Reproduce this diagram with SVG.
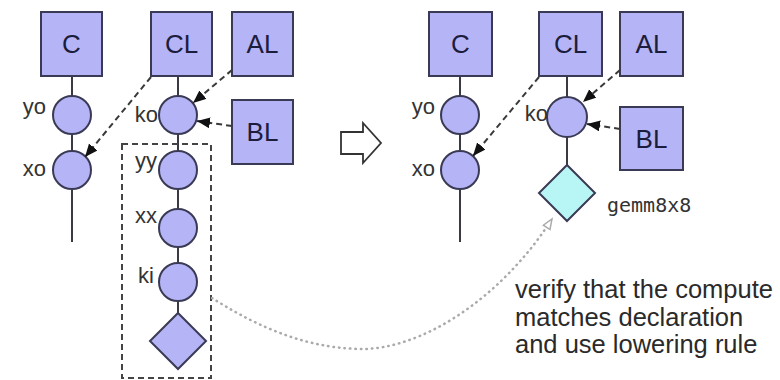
<svg xmlns="http://www.w3.org/2000/svg" width="780" height="380" viewBox="0 0 780 380">
  <style>
    .box { fill: #b4b4f6; stroke: #3a3a55; stroke-width: 2; }
    .iter { fill: #b4b4f6; stroke: #3a3a55; stroke-width: 2; }
    .intrin { fill: #b8f6f6; stroke: #3a3a55; stroke-width: 2; }
    .axis { stroke: #3a3a44; stroke-width: 2; fill: none; }
    .boxlabel { font-family: "Liberation Sans", Arial, sans-serif; font-size: 26px; fill: #1c1c3c; text-anchor: middle; }
    .varlabel { font-family: "Liberation Sans", Arial, sans-serif; font-size: 22px; fill: #333; text-anchor: end; }
    .dep { stroke: #3a3a3a; stroke-width: 2; stroke-dasharray: 6 4; fill: none; marker-end: url(#solidHead); }
    .verify { stroke: #aaaaaa; stroke-width: 2.5; stroke-dasharray: 0.5 5; stroke-linecap: round; fill: none; marker-end: url(#hollowHead); }
    .note { font-family: "Liberation Sans", Arial, sans-serif; font-size: 25.5px; fill: #2a2a2a; }
    .mono { font-family: "DejaVu Sans Mono", "Liberation Mono", monospace; font-size: 20px; fill: #333; }
  </style>
  <defs>
    <marker id="solidHead" markerUnits="userSpaceOnUse" markerWidth="14" markerHeight="12" refX="13" refY="5.5" orient="auto">
      <path d="M0,0 L13,5.5 L0,11 z" fill="#111"/>
    </marker>
    <marker id="hollowHead" markerUnits="userSpaceOnUse" markerWidth="14" markerHeight="12" refX="11" refY="5" orient="auto">
      <path d="M1,1 L11,5 L1,9 z" fill="#fff" stroke="#aaa" stroke-width="1.5"/>
    </marker>
  </defs>

  <!-- stage axes (drawn behind the nodes) -->
  <g id="axes">
    <line class="axis" x1="72" y1="76" x2="72" y2="242"/>
    <line class="axis" x1="178" y1="76" x2="178" y2="313"/>
    <line class="axis" x1="460" y1="76" x2="460" y2="242"/>
    <line class="axis" x1="567" y1="76" x2="567" y2="165"/>
  </g>

  <!-- left: before tensorize -->
  <g id="C-left"><rect class="box" x="41" y="12" width="61" height="64"/><text class="boxlabel" x="71.5" y="53">C</text></g>
  <g id="CL-left"><rect class="box" x="151" y="12" width="61" height="64"/><text class="boxlabel" x="181.5" y="53">CL</text></g>
  <g id="AL-left"><rect class="box" x="232" y="12" width="61" height="64"/><text class="boxlabel" x="262.5" y="53">AL</text></g>
  <g id="BL-left"><rect class="box" x="232" y="100" width="61" height="64"/><text class="boxlabel" x="262.5" y="141">BL</text></g>

  <g id="yo-left"><circle class="iter" cx="72" cy="115" r="19"/><text class="varlabel" x="46" y="114">yo</text></g>
  <g id="xo-left"><circle class="iter" cx="72" cy="170" r="19"/><text class="varlabel" x="46" y="176">xo</text></g>
  <g id="ko-left"><circle class="iter" cx="178" cy="115" r="19"/><text class="varlabel" x="158" y="122">ko</text></g>
  <g id="yy-left"><circle class="iter" cx="178" cy="170" r="19"/><text class="varlabel" x="157" y="168">yy</text></g>
  <g id="xx-left"><circle class="iter" cx="178" cy="228" r="19"/><text class="varlabel" x="157" y="223">xx</text></g>
  <g id="ki-left"><circle class="iter" cx="178" cy="282" r="19"/><text class="varlabel" x="154" y="283">ki</text></g>
  <g id="body-left"><polygon class="iter" points="178,313 206,341 178,369 150,341"/></g>

  <!-- region to be tensorized -->
  <g id="region">
    <rect x="122" y="144" width="89" height="234" fill="none" stroke="#444" stroke-width="2" stroke-dasharray="6 4"/>
  </g>

  <!-- transform arrow -->
  <g id="transform">
    <path d="M341,132 L363,132 L363,123 L381,143 L363,163 L363,154 L341,154 z" fill="#fff" stroke="#333" stroke-width="1.8" stroke-linejoin="miter"/>
  </g>

  <!-- right: after tensorize -->
  <g id="C-right"><rect class="box" x="429" y="12" width="63" height="64"/><text class="boxlabel" x="460.5" y="53">C</text></g>
  <g id="CL-right"><rect class="box" x="539" y="12" width="63" height="64"/><text class="boxlabel" x="570.5" y="53">CL</text></g>
  <g id="AL-right"><rect class="box" x="620" y="12" width="63" height="64"/><text class="boxlabel" x="651.5" y="53">AL</text></g>
  <g id="BL-right"><rect class="box" x="620" y="107" width="63" height="63"/><text class="boxlabel" x="651.5" y="148">BL</text></g>

  <g id="yo-right"><circle class="iter" cx="460" cy="115" r="19"/><text class="varlabel" x="435" y="114">yo</text></g>
  <g id="xo-right"><circle class="iter" cx="460" cy="170" r="19"/><text class="varlabel" x="435" y="176">xo</text></g>
  <g id="ko-right"><circle class="iter" cx="567" cy="117" r="20"/><text class="varlabel" x="548" y="121">ko</text></g>
  <g id="gemm"><polygon class="intrin" points="567,165 595,193 567,221 539,193"/><text class="mono" x="607" y="212">gemm8x8</text></g>

  <!-- connectors -->
  <g id="connectors">
    <path class="dep" d="M151,77 L85,157"/>
    <path class="dep" d="M232,70 L193,103"/>
    <path class="dep" d="M232,126 L197,121"/>
    <path class="dep" d="M539,77 L473,156"/>
    <path class="dep" d="M620,70 L583,102"/>
    <path class="dep" d="M620,129 L587,124"/>
    <path class="verify" d="M212,298 C250,322 300,348 360,349 C420,350 500,300 552,219"/>
  </g>

  <g id="caption">
    <text class="note" x="515" y="298">verify that the compute</text>
    <text class="note" x="515" y="326">matches declaration</text>
    <text class="note" x="515" y="353">and use lowering rule</text>
  </g>
</svg>
